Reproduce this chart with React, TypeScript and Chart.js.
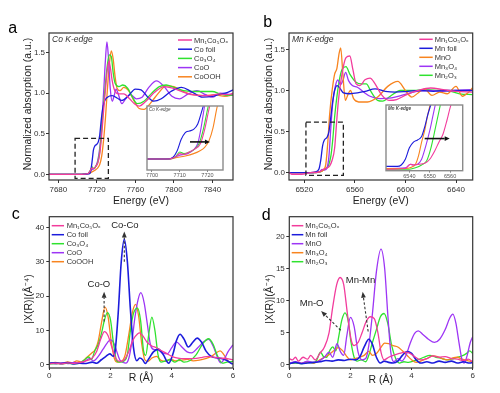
import React, { useEffect, useRef } from 'react';
import { Chart, registerables } from 'chart.js';

Chart.register(...registerables);

const FONT = "'Liberation Sans', Arial, Helvetica, sans-serif";
Chart.defaults.font.family = FONT;
Chart.defaults.color = '#333';

const PINK = '#f23c9c';
const BLUE = '#1c1cdc';
const GREEN = '#2fe22f';
const PURPLE = '#9d35f5';
const ORANGE = '#f8841f';

type P = [number, number][];

// ---------------- tick labels ----------------
const xTicksA = [7680, 7720, 7760, 7800, 7840];
const xTicksB = [6520, 6560, 6600, 6640];
const yTicksAB = [0, 0.5, 1.0, 1.5];
const xTicksCD = [0, 2, 4, 6];
const yTicksC = [0, 10, 20, 30, 40];
const yTicksD = [0, 5, 10, 15, 20];
const xTicksInsetA = [7700, 7710, 7720];
const xTicksInsetB = [6540, 6550, 6560];

// ---------------- labels ----------------
const labelsA = ['Mn₁Co₅Oₓ', 'Co foil', 'Co₃O₄', 'CoO', 'CoOOH'];
const labelsB = ['Mn₁Co₅Oₓ', 'Mn foil', 'MnO', 'Mn₃O₄', 'Mn₂O₃'];

// ---------------- panel a : Co K-edge XANES ----------------
const mnCoA: P = [[7670,0],[7704,0],[7711,0.01],[7713,0.04],[7715,0.08],[7717,0.07],[7719,0.1],[7721,0.14],[7723,0.25],[7725,0.48],[7727,0.78],[7729,1.05],[7731,1.3],[7732.5,1.39],[7734,1.32],[7736,1.15],[7739,1.02],[7743,0.99],[7748,0.99],[7754,0.93],[7759,0.87],[7764,0.84],[7771,0.9],[7780,1.01],[7790,1.08],[7799,1.06],[7808,1.02],[7818,0.98],[7828,0.97],[7838,0.97],[7847,0.99],[7855,0.98],[7862,1.0]];
const coFoilA: P = [[7670,0],[7704,0],[7712,0.005],[7713.5,0.03],[7715,0.15],[7716.5,0.3],[7718,0.35],[7720,0.37],[7721.5,0.4],[7723,0.48],[7724.5,0.66],[7726,0.8],[7728,0.9],[7731,0.95],[7736,0.97],[7741,0.94],[7746,0.91],[7753,0.97],[7760,1.05],[7766,1.04],[7773,0.95],[7779,0.9],[7787,0.93],[7797,1.02],[7808,1.07],[7818,1.02],[7830,0.95],[7840,0.96],[7849,0.99],[7856,1.01],[7862,1.04]];
const co3o4A: P = [[7670,0],[7704,0],[7711,0.01],[7713,0.04],[7715,0.09],[7717,0.07],[7719,0.1],[7721,0.15],[7723,0.28],[7725,0.55],[7727,0.85],[7729,1.12],[7731,1.35],[7733,1.47],[7735,1.45],[7737,1.25],[7739,1.12],[7743,1.08],[7747,1.1],[7752,1.06],[7757,0.95],[7762,0.87],[7769,0.9],[7777,1.0],[7785,1.08],[7792,1.1],[7800,1.07],[7810,1.03],[7820,1.02],[7830,1.02],[7840,1.02],[7848,0.99],[7855,0.97],[7862,0.98]];
const cooA: P = [[7670,0],[7704,0],[7711,0.01],[7713,0.04],[7715,0.06],[7717,0.07],[7719,0.1],[7721,0.17],[7723,0.32],[7724.5,0.5],[7726,0.8],[7727.5,1.1],[7729,1.42],[7730.5,1.63],[7732,1.45],[7734,1.05],[7736,0.9],[7738,0.97],[7740,1.05],[7742.5,0.98],[7746,0.87],[7750,0.93],[7755,0.98],[7761,0.93],[7767,0.95],[7774,1.07],[7782,1.15],[7790,1.08],[7798,0.96],[7806,0.93],[7815,0.99],[7824,1.03],[7833,0.98],[7840,0.95],[7848,1.0],[7855,0.99],[7862,0.97]];
const coOOHA: P = [[7670,0],[7704,0],[7712,0.01],[7715,0.03],[7718,0.05],[7721,0.08],[7723,0.12],[7725,0.22],[7727,0.42],[7729,0.7],[7731,1.05],[7733,1.35],[7735,1.52],[7737,1.42],[7739,1.2],[7741,1.06],[7744,1.03],[7748,1.07],[7753,1.03],[7758,0.92],[7764,0.81],[7769,0.8],[7776,0.88],[7784,1.0],[7792,1.09],[7800,1.08],[7810,1.02],[7820,0.98],[7832,0.97],[7843,0.98],[7853,0.96],[7862,0.98]];

// inset a (edge region)
const mnCoInA: P = [[7698,0],[7706,0],[7708.5,0.03],[7710,0.07],[7711.5,0.06],[7713.5,0.09],[7715.5,0.13],[7717.5,0.2],[7719,0.38],[7720.3,0.6],[7721.5,0.8],[7722.5,1.0]];
const coFoilInA: P = [[7698,0],[7706,0],[7707.5,0.02],[7709,0.1],[7710.5,0.25],[7712,0.34],[7713.5,0.36],[7715,0.38],[7716.5,0.45],[7718,0.62],[7719.5,0.8],[7721,0.95]];
const co3o4InA: P = [[7698,0],[7706,0],[7708.5,0.03],[7710,0.09],[7711.5,0.07],[7713.5,0.09],[7715.5,0.13],[7717,0.2],[7718.5,0.38],[7719.8,0.6],[7721,0.8],[7722,1.0]];
const cooInA: P = [[7698,0],[7705,0],[7708,0.02],[7710,0.05],[7711.5,0.06],[7713,0.07],[7715,0.12],[7716.5,0.2],[7717.5,0.36],[7718.5,0.58],[7719.5,0.8],[7720.5,1.0]];
const coOOHInA: P = [[7698,0],[7706,0],[7709,0.02],[7712,0.04],[7715,0.07],[7717,0.1],[7719,0.15],[7720.5,0.23],[7722,0.4],[7723.2,0.62],[7724.3,0.8],[7725.6,1.0]];

// ---------------- panel b : Mn K-edge XANES ----------------
const mnCoB: P = [[6508,0],[6510,-0.02],[6518,-0.02],[6525,0],[6532,0.01],[6535,0.04],[6537,0.05],[6540,0.08],[6542,0.15],[6544,0.3],[6545.5,0.6],[6547,0.88],[6549,1.12],[6551,1.3],[6553,1.4],[6556,1.42],[6558.5,1.25],[6561,1.08],[6564,1.06],[6568,1.13],[6572,1.15],[6576,1.08],[6581,0.95],[6587,0.88],[6593,0.89],[6601,0.95],[6610,1.0],[6620,1.03],[6630,1.01],[6640,0.99],[6653,0.98]];
const mnFoilB: P = [[6508,0],[6525,0],[6529,0.01],[6531.5,0.04],[6533,0.15],[6534.5,0.33],[6536,0.4],[6538,0.43],[6539.5,0.5],[6541,0.68],[6542.5,0.87],[6544,1.0],[6546,1.06],[6548,1.03],[6551,0.97],[6556,0.96],[6562,0.97],[6568,0.99],[6576,1.02],[6584,0.99],[6592,0.98],[6602,0.99],[6612,1.0],[6622,0.99],[6632,1.0],[6642,1.0],[6653,1.0]];
const mnOB: P = [[6508,0],[6525,0],[6532,0.01],[6535,0.03],[6537,0.1],[6538.5,0.35],[6540,0.7],[6542,1.0],[6544,1.2],[6545.8,1.27],[6547.5,1.45],[6548.8,1.52],[6550.5,1.2],[6552.5,0.88],[6554.5,0.95],[6556.5,1.0],[6559,0.9],[6563,0.86],[6570,0.86],[6578,0.92],[6586,1.05],[6594,1.11],[6600,1.0],[6605,0.92],[6610,0.97],[6615,1.02],[6621,0.94],[6627,0.98],[6633,0.96],[6640,1.05],[6645,0.93],[6650,0.98],[6653,1.03]];
const mn3o4B: P = [[6508,0],[6525,0],[6532,0.01],[6534,0.04],[6536,0.03],[6538,0.06],[6539.5,0.2],[6541,0.55],[6542.5,0.85],[6544.5,1.05],[6546.5,1.13],[6548.5,1.07],[6550.5,1.12],[6552.7,1.22],[6555,1.12],[6558,1.06],[6562,1.04],[6567,0.98],[6572,0.93],[6580,0.9],[6589,0.91],[6599,0.95],[6609,0.99],[6619,1.0],[6629,0.99],[6639,1.0],[6653,1.01]];
const mn2o3B: P = [[6508,0],[6525,0],[6533,0.01],[6535,0.03],[6537,0.05],[6539,0.08],[6541,0.2],[6542.5,0.4],[6544,0.68],[6546,0.95],[6548,1.15],[6550,1.26],[6553,1.29],[6556,1.2],[6561,1.1],[6565,1.08],[6569,1.08],[6573,0.98],[6578,0.88],[6582,0.87],[6588,0.93],[6596,1.0],[6606,1.0],[6616,1.01],[6626,1.0],[6636,0.99],[6643,0.96],[6653,0.95]];

// inset b
const mnCoInB: P = [[6528,-0.04],[6538,-0.03],[6540.5,0.03],[6542,0.02],[6545,0.03],[6548,0.05],[6550,0.1],[6552.5,0.22],[6554.5,0.34],[6556.5,0.45],[6558.5,0.65],[6560,0.82],[6561.5,0.95]];
const mnFoilInB: P = [[6528,0],[6534,0],[6536,0.02],[6538,0.1],[6540,0.26],[6542,0.34],[6544,0.37],[6546,0.42],[6547.5,0.55],[6549,0.72],[6550.5,0.86],[6552,1.0]];
const mnOInB: P = [[6528,-0.03],[6538,-0.03],[6541,-0.01],[6543,0.03],[6544.5,0.15],[6546,0.34],[6547.5,0.5],[6549,0.72],[6550.5,0.9]];
const mn3o4InB: P = [[6528,-0.03],[6538,-0.02],[6540.5,0.03],[6542,0.02],[6544,0.03],[6546,0.1],[6548,0.28],[6550,0.5],[6551.5,0.7],[6553,0.9]];
const mn2o3InB: P = [[6528,-0.04],[6540,-0.04],[6543,-0.02],[6546,0.02],[6548.5,0.08],[6550.5,0.25],[6552.5,0.5],[6554,0.7],[6555.5,0.9]];

// ---------------- panel c : Co FT-EXAFS ----------------
const mnCoC: P = [[0,0.3],[0.2,0.5],[0.4,0.3],[0.6,0.6],[0.8,0.4],[1.0,0.7],[1.2,1.2],[1.4,2],[1.55,4],[1.68,7.5],[1.8,9.7],[1.92,8.5],[2.05,5],[2.18,1.8],[2.3,1],[2.45,1.5],[2.6,4],[2.75,7.5],[2.88,9],[2.95,9.3],[3.05,8.5],[3.2,6.5],[3.35,5.5],[3.5,5],[3.65,4.2],[3.8,3.5],[4.0,2.5],[4.2,2],[4.4,1.8],[4.6,1.8],[4.8,1.9],[5.0,2.2],[5.2,2.5],[5.4,2.2],[5.6,2],[5.8,1.8],[6,1.5]];
const coFoilC: P = [[0,0.5],[0.2,0.6],[0.4,0.4],[0.6,0.7],[0.8,0.3],[1.0,0.5],[1.2,0.4],[1.4,0.8],[1.55,0.5],[1.7,1.5],[1.85,2.5],[1.98,3.2],[2.08,2.5],[2.15,4],[2.25,15],[2.35,30],[2.45,36.5],[2.55,30],[2.65,16],[2.75,5],[2.86,1.2],[2.95,2],[3.05,1.5],[3.13,0.4],[3.25,1.8],[3.4,3.8],[3.56,4.6],[3.72,3],[3.9,0.5],[4.05,3.5],[4.15,7],[4.27,8.9],[4.4,7.5],[4.54,5.2],[4.68,6.5],[4.83,7.8],[4.98,6.5],[5.12,4],[5.3,2.4],[5.5,2],[5.65,1.8],[5.8,1.3],[5.95,0.4],[6,0.3]];
const co3o4C: P = [[0,0.3],[0.2,0.4],[0.4,0.3],[0.6,0.5],[0.8,0.3],[1.0,0.6],[1.15,1.5],[1.28,2.3],[1.38,1.6],[1.48,4],[1.6,6],[1.7,9],[1.8,13],[1.9,15.2],[2.0,13],[2.1,6],[2.2,1.2],[2.3,0.8],[2.45,1.2],[2.55,3],[2.65,10],[2.75,15],[2.88,16.5],[2.98,13],[3.08,4],[3.15,2.8],[3.25,9],[3.35,13.9],[3.45,10],[3.55,3],[3.65,0.8],[3.8,1.2],[3.95,1.5],[4.1,0.8],[4.25,1.5],[4.4,0.8],[4.6,1.3],[4.8,3],[5.0,6],[5.2,7.6],[5.35,6],[5.5,2.5],[5.65,0.5],[5.8,0.8],[6,1]];
const cooC: P = [[0,0.5],[0.2,0.3],[0.4,0.6],[0.6,0.4],[0.8,0.7],[1.0,0.5],[1.15,1.0],[1.3,1.8],[1.45,1.2],[1.6,2.5],[1.75,4.5],[1.9,6.5],[2.0,7.3],[2.1,6.5],[2.2,4],[2.3,1.5],[2.4,0.8],[2.5,0.5],[2.6,2],[2.7,7],[2.8,14],[2.9,19],[2.99,21],[3.1,18],[3.2,12],[3.3,6],[3.4,4.5],[3.55,4.3],[3.7,3.5],[3.85,3.2],[4.0,5],[4.15,6.7],[4.3,5.5],[4.5,3.8],[4.65,3.5],[4.85,5],[5.05,6.8],[5.2,7.4],[5.35,5.5],[5.5,2],[5.6,0.6],[5.7,1.5],[5.85,4],[6,5.8]];
const coOOHC: P = [[0,0.5],[0.2,0.7],[0.4,0.5],[0.6,0.9],[0.75,0.6],[0.9,1.2],[1.05,0.8],[1.2,2],[1.38,3.4],[1.5,4.5],[1.6,7],[1.7,12],[1.82,16.8],[1.92,14],[2.02,7],[2.12,2],[2.22,0.8],[2.35,1],[2.48,3],[2.6,9],[2.72,15.5],[2.82,17.6],[2.92,14],[3.02,6],[3.12,1.5],[3.22,1],[3.35,2],[3.5,2.5],[3.65,1.3],[3.8,1],[3.95,1.7],[4.1,1.2],[4.3,1.3],[4.5,1.6],[4.7,1.2],[4.9,1.4],[5.1,1.8],[5.3,2.5],[5.45,3.5],[5.58,4.1],[5.7,3],[5.85,1],[6,0.3]];

// ---------------- panel d : Mn FT-EXAFS ----------------
const mnCoD: P = [[0,1.0],[0.1,0.8],[0.2,1.2],[0.3,0.6],[0.45,1.2],[0.6,0.9],[0.7,1.5],[0.85,0.8],[1.0,1.8],[1.15,2.8],[1.3,5],[1.42,9],[1.55,12.5],[1.66,13.6],[1.78,12.5],[1.9,8],[2.02,4],[2.12,3],[2.25,3.5],[2.38,5],[2.52,6.8],[2.65,7.5],[2.78,7.2],[2.9,5],[3.0,2],[3.1,0.8],[3.25,1.2],[3.4,1.5],[3.6,1.8],[3.8,2],[3.95,1.8],[4.1,1.3],[4.3,0.8],[4.5,1],[4.7,1.4],[4.9,1.2],[5.1,1.3],[5.3,1],[5.5,0.9],[5.7,0.7],[5.85,0.9],[6,0.5]];
const mnFoilD: P = [[0,0.2],[0.2,0.4],[0.4,0.2],[0.6,0.3],[0.8,0.4],[1.0,0.5],[1.2,0.7],[1.4,0.6],[1.6,0.8],[1.8,0.7],[2.0,0.9],[2.15,0.8],[2.3,1.2],[2.45,2.8],[2.6,4.0],[2.72,3.2],[2.85,1.2],[2.98,0.3],[3.1,0.6],[3.25,0.4],[3.4,0.3],[3.55,0.6],[3.7,1.5],[3.85,2.1],[4.0,1.8],[4.15,0.8],[4.3,0.3],[4.5,0.5],[4.7,0.3],[4.9,0.6],[5.1,0.4],[5.3,0.6],[5.5,0.3],[5.7,0.5],[5.9,0.3],[6,0.4]];
const mnOD: P = [[0,0.3],[0.2,0.5],[0.4,0.3],[0.6,0.6],[0.8,0.4],[1.0,0.7],[1.15,1.2],[1.3,2],[1.42,1.2],[1.56,3.3],[1.68,2],[1.78,1.5],[1.88,4.5],[2.0,7.4],[2.12,6],[2.25,2],[2.38,0.8],[2.5,1],[2.6,3],[2.72,8],[2.85,14.5],[3.0,18],[3.12,15],[3.22,8],[3.32,2],[3.42,0.5],[3.55,1],[3.68,0.6],[3.82,1.5],[3.95,3.3],[4.1,4.9],[4.22,5.3],[4.38,4.7],[4.55,4],[4.75,3.5],[4.92,4],[5.1,5.5],[5.25,7.3],[5.35,7.9],[5.45,6.5],[5.55,3.5],[5.65,0.8],[5.72,0.3],[5.82,1.5],[5.92,3.5],[6,4.4]];
const mn3o4D: P = [[0,0.2],[0.2,0.4],[0.4,0.3],[0.6,0.5],[0.8,0.3],[1.0,0.8],[1.15,1.2],[1.3,1.6],[1.45,2.2],[1.6,2.7],[1.75,2.2],[1.9,1.2],[2.0,0.8],[2.15,1],[2.3,1.2],[2.45,1.5],[2.6,2.1],[2.72,1.5],[2.85,1.8],[2.98,2.6],[3.12,3.4],[3.25,3.3],[3.4,3],[3.55,2.8],[3.7,2.2],[3.85,1.5],[4.0,0.8],[4.15,0.4],[4.3,0.6],[4.5,1],[4.7,1.4],[4.85,1.3],[5.0,1],[5.2,0.8],[5.35,1.1],[5.5,1.2],[5.65,0.9],[5.8,0.7],[6,0.5]];
const mn2o3D: P = [[0,0.2],[0.2,0.3],[0.4,0.2],[0.6,0.4],[0.8,0.3],[0.9,0.8],[1.02,2],[1.12,1.3],[1.22,1.2],[1.32,2.2],[1.42,2.8],[1.52,2.2],[1.62,4.5],[1.72,7],[1.82,8.1],[1.92,7],[2.02,3.5],[2.12,1.2],[2.22,0.6],[2.35,0.8],[2.5,0.5],[2.6,1.5],[2.72,3.5],[2.85,5.5],[2.98,7.5],[3.1,8],[3.22,6.5],[3.35,3],[3.48,1],[3.6,0.3],[3.75,0.5],[3.9,0.4],[4.05,0.6],[4.2,0.8],[4.4,1.2],[4.6,1.5],[4.8,1.2],[5.0,1],[5.15,0.8],[5.3,0.9],[5.5,1.2],[5.65,1.4],[5.8,1.8],[5.9,2.2],[6,1.8]];

// ---------------- helpers ----------------
const pts = (a: P) => a.map(([x, y]) => ({ x, y }));

function line(label: string, data: P, color: string, width = 1.3) {
  return {
    label,
    data: pts(data),
    borderColor: color,
    backgroundColor: color,
    borderWidth: width,
    pointRadius: 0,
    pointHoverRadius: 0,
    fill: false,
    cubicInterpolationMode: 'monotone',
  };
}

type Txt = {
  text: string; x: number; y: number; mode: 'abs' | 'area' | 'data'; size: number;
  style?: string; weight?: string; align?: CanvasTextAlign; baseline?: CanvasTextBaseline; rot?: number; color?: string;
};
type Arrow = { x0: number; y0: number; x1: number; y1: number; dash?: number[]; width?: number; head?: number; hw?: number; color?: string };
type Box = { x0: number; x1: number; y0: number; y1: number };
type Legend = { x: number; y: number; step: number; len: number; gap: number; size: number };
type Notes = { frame: { color: string; width: number }; bg?: boolean; boxes?: Box[]; arrows?: Arrow[]; texts?: Txt[]; legend?: Legend };

function notesPlugin(n: Notes) {
  return {
    id: 'notes',
    beforeDraw(chart: any) {
      if (!n.bg) return;
      const { ctx, chartArea: a } = chart;
      ctx.save();
      ctx.fillStyle = '#fff';
      ctx.fillRect(a.left, a.top, a.right - a.left, a.bottom - a.top);
      ctx.restore();
    },
    afterDraw(chart: any) {
      const { ctx, chartArea: a, scales } = chart;
      const sx = scales.x;
      const sy = scales.y;
      ctx.save();
      for (const b of n.boxes || []) {
        const l = sx.getPixelForValue(b.x0);
        const r = sx.getPixelForValue(b.x1);
        const t = sy.getPixelForValue(b.y1);
        const bt = sy.getPixelForValue(b.y0);
        ctx.setLineDash([5, 3]);
        ctx.lineWidth = 1.3;
        ctx.strokeStyle = '#222';
        ctx.strokeRect(l, t, r - l, bt - t);
      }
      ctx.setLineDash([]);
      for (const ar of n.arrows || []) {
        const X0 = sx.getPixelForValue(ar.x0);
        const Y0 = sy.getPixelForValue(ar.y0);
        const X1 = sx.getPixelForValue(ar.x1);
        const Y1 = sy.getPixelForValue(ar.y1);
        const ang = Math.atan2(Y1 - Y0, X1 - X0);
        const h = ar.head ?? 6;
        const hw = ar.hw ?? 2.6;
        const bx = X1 - h * Math.cos(ang);
        const by = Y1 - h * Math.sin(ang);
        const col = ar.color || '#333';
        ctx.strokeStyle = col;
        ctx.fillStyle = col;
        ctx.lineWidth = ar.width ?? 1.1;
        ctx.setLineDash(ar.dash || []);
        ctx.beginPath();
        ctx.moveTo(X0, Y0);
        ctx.lineTo(bx, by);
        ctx.stroke();
        ctx.setLineDash([]);
        ctx.beginPath();
        ctx.moveTo(X1, Y1);
        ctx.lineTo(bx + hw * Math.sin(ang), by - hw * Math.cos(ang));
        ctx.lineTo(bx - hw * Math.sin(ang), by + hw * Math.cos(ang));
        ctx.closePath();
        ctx.fill();
      }
      if (n.legend) {
        const L = n.legend;
        ctx.font = `normal ${L.size}px ${FONT}`;
        ctx.textBaseline = 'middle';
        ctx.textAlign = 'left';
        chart.data.datasets.forEach((ds: any, i: number) => {
          const y = a.top + L.y + i * L.step;
          const x = a.left + L.x;
          ctx.strokeStyle = ds.borderColor;
          ctx.lineWidth = 1.5;
          ctx.beginPath();
          ctx.moveTo(x, y);
          ctx.lineTo(x + L.len, y);
          ctx.stroke();
          ctx.fillStyle = '#333';
          ctx.fillText(ds.label, x + L.len + L.gap, y + 0.5);
        });
      }
      for (const t of n.texts || []) {
        let X = t.x;
        let Y = t.y;
        if (t.mode === 'area') { X = a.left + t.x; Y = a.top + t.y; }
        else if (t.mode === 'data') { X = sx.getPixelForValue(t.x); Y = sy.getPixelForValue(t.y); }
        ctx.save();
        ctx.font = `${t.style || 'normal'} ${t.weight || 'normal'} ${t.size}px ${FONT}`;
        ctx.fillStyle = t.color || '#222';
        ctx.textAlign = t.align || 'center';
        ctx.textBaseline = t.baseline || 'middle';
        ctx.translate(X, Y);
        if (t.rot) ctx.rotate((t.rot * Math.PI) / 180);
        ctx.fillText(t.text, 0, 0);
        ctx.restore();
      }
      ctx.strokeStyle = n.frame.color;
      ctx.lineWidth = n.frame.width;
      ctx.strokeRect(a.left, a.top, a.right - a.left, a.bottom - a.top);
      ctx.restore();
    },
  };
}

type Axis = { min: number; max: number; ticks: number[]; dec?: number; size: number; tickLen: number; pad: number; color?: string; tickColor?: string; display?: boolean; fit: number };

function axis(o: Axis, horizontal: boolean) {
  return {
    type: 'linear',
    display: o.display !== false,
    min: o.min,
    max: o.max,
    afterBuildTicks: (s: any) => { s.ticks = o.ticks.map((v) => ({ value: v })); },
    afterFit: (s: any) => { if (horizontal) s.height = o.fit; else s.width = o.fit; },
    ticks: {
      font: { size: o.size },
      color: o.color || '#333',
      padding: o.pad,
      maxRotation: 0,
      autoSkip: false,
      callback: (v: any) => (o.dec ? Number(v).toFixed(o.dec) : String(v)),
    },
    grid: { display: true, drawOnChartArea: false, drawTicks: true, tickLength: o.tickLen, tickColor: o.tickColor || '#333', tickWidth: 1 },
    border: { display: false },
    title: { display: false },
  };
}

function config(datasets: any[], x: Axis, y: Axis, padding: any, notes: Notes) {
  return {
    type: 'line',
    data: { datasets },
    options: {
      responsive: false,
      animation: false,
      events: [],
      layout: { padding },
      plugins: { legend: { display: false }, tooltip: { enabled: false } },
      scales: { x: axis(x, true), y: axis(y, false) },
    },
    plugins: [notesPlugin(notes)],
  } as any;
}

const FRAME = { color: '#333', width: 1.2 };
const IFRAME = { color: '#8a8a8a', width: 1.4 };

// ---------------- configs ----------------
const cfgA = () =>
  config(
    [line(labelsA[0], mnCoA, PINK), line(labelsA[1], coFoilA, BLUE), line(labelsA[2], co3o4A, GREEN), line(labelsA[3], cooA, PURPLE), line(labelsA[4], coOOHA, ORANGE)],
    { min: 7670.3, max: 7861.5, ticks: xTicksA, size: 8, tickLen: 3, pad: 2, fit: 27 },
    { min: -0.07, max: 1.74, ticks: yTicksAB, dec: 1, size: 8, tickLen: 3, pad: 1, fit: 49 },
    { left: 0, top: 33, right: 17, bottom: 0 },
    {
      frame: FRAME,
      boxes: [{ x0: 7697.4, x1: 7732, y0: -0.049, y1: 0.443 }],
      legend: { x: 129, y: 7, step: 9.2, len: 14, gap: 2, size: 7.5 },
      texts: [
        { text: 'Co K-edge', x: 3, y: 6.5, mode: 'area', size: 8.5, style: 'italic', align: 'left', color: '#333' },
        { text: 'a', x: 8.3, y: 33, mode: 'abs', size: 16, align: 'left', baseline: 'alphabetic', color: '#000' },
        { text: 'Normalized absorption (a.u.)', x: 28, y: 104, mode: 'abs', size: 10.5, rot: -90 },
        { text: 'Energy (eV)', x: 141, y: 201, mode: 'abs', size: 10.5 },
      ],
    }
  );

const cfgInsetA = () =>
  config(
    [line(labelsA[0], mnCoInA, PINK, 1.1), line(labelsA[1], coFoilInA, BLUE, 1.1), line(labelsA[2], co3o4InA, GREEN, 1.1), line(labelsA[3], cooInA, PURPLE, 1.1), line(labelsA[4], coOOHInA, ORANGE, 1.1)],
    { min: 7698.2, max: 7725.6, ticks: xTicksInsetA, size: 5.5, tickLen: 2, pad: 0, color: '#555', tickColor: '#888', fit: 10 },
    { min: -0.14, max: 0.68, ticks: [], size: 5, tickLen: 0, pad: 0, display: false, fit: 0 },
    { left: 2, top: 2, right: 4, bottom: 0 },
    {
      frame: IFRAME,
      bg: true,
      arrows: [{ x0: 7713.7, y0: 0.22, x1: 7720.9, y1: 0.22, width: 1.6, head: 5, hw: 2.4, color: '#111' }],
      texts: [{ text: 'Co K-edge', x: 2, y: 4, mode: 'area', size: 4.5, style: 'italic', align: 'left', color: '#444' }],
    }
  );

const cfgB = () =>
  config(
    [line(labelsB[0], mnCoB, PINK), line(labelsB[1], mnFoilB, BLUE), line(labelsB[2], mnOB, ORANGE), line(labelsB[3], mn3o4B, PURPLE), line(labelsB[4], mn2o3B, GREEN)],
    { min: 6507.9, max: 6653.2, ticks: xTicksB, size: 8, tickLen: 3, pad: 2, fit: 27 },
    { min: -0.09, max: 1.7, ticks: yTicksAB, dec: 1, size: 8, tickLen: 3, pad: 1, fit: 39 },
    { left: 0, top: 33, right: 27.3, bottom: 0 },
    {
      frame: FRAME,
      boxes: [{ x0: 6521.3, x1: 6550.9, y0: -0.033, y1: 0.615 }],
      legend: { x: 130.3, y: 6.3, step: 9, len: 13.4, gap: 2, size: 7.5 },
      texts: [
        { text: 'Mn K-edge', x: 3, y: 6.5, mode: 'area', size: 8.5, style: 'italic', align: 'left', color: '#333' },
        { text: 'b', x: 13.3, y: 26.7, mode: 'abs', size: 16, align: 'left', baseline: 'alphabetic', color: '#000' },
        { text: 'Normalized absorption (a.u.)', x: 19, y: 104, mode: 'abs', size: 10.5, rot: -90 },
        { text: 'Energy (eV)', x: 130.8, y: 201, mode: 'abs', size: 10.5 },
      ],
    }
  );

const cfgInsetB = () =>
  config(
    [line(labelsB[0], mnCoInB, PINK, 1.1), line(labelsB[1], mnFoilInB, BLUE, 1.1), line(labelsB[2], mnOInB, ORANGE, 1.1), line(labelsB[3], mn3o4InB, PURPLE, 1.1), line(labelsB[4], mn2o3InB, GREEN, 1.1)],
    { min: 6528.5, max: 6566.2, ticks: xTicksInsetB, size: 5.5, tickLen: 2, pad: 0, color: '#555', tickColor: '#888', fit: 10.3 },
    { min: -0.06, max: 0.86, ticks: [], size: 5, tickLen: 0, pad: 0, display: false, fit: 0 },
    { left: 2, top: 2, right: 4.3, bottom: 0 },
    {
      frame: IFRAME,
      bg: true,
      arrows: [{ x0: 6547.5, y0: 0.39, x1: 6559.8, y1: 0.39, width: 1.6, head: 5, hw: 2.4, color: '#111' }],
      texts: [{ text: 'Mn K-edge', x: 2, y: 4, mode: 'area', size: 4.5, style: 'italic', weight: 'bold', align: 'left', color: '#444' }],
    }
  );

const cfgC = () =>
  config(
    [line(labelsA[0], mnCoC, PINK), line(labelsA[1], coFoilC, BLUE, 1.6), line(labelsA[2], co3o4C, GREEN), line(labelsA[3], cooC, PURPLE), line(labelsA[4], coOOHC, ORANGE)],
    { min: 0, max: 6, ticks: xTicksCD, size: 8, tickLen: 2, pad: 1, fit: 25 },
    { min: -0.9, max: 43.1, ticks: yTicksC, size: 8, tickLen: 3, pad: 2, fit: 49.3 },
    { left: 0, top: 9.7, right: 17, bottom: 0 },
    {
      frame: FRAME,
      legend: { x: 2.4, y: 9, step: 9, len: 12.3, gap: 2.7, size: 7.5 },
      arrows: [
        { x0: 2.45, y0: 30, x1: 2.45, y1: 38.8, dash: [2.5, 2], width: 1.1, head: 6, hw: 2.4 },
        { x0: 1.79, y0: 12.6, x1: 1.79, y1: 21.3, dash: [2.5, 2], width: 1.1, head: 6, hw: 2.4 },
      ],
      texts: [
        { text: 'Co-Co', x: 2.47, y: 40.6, mode: 'data', size: 9.5 },
        { text: 'Co-O', x: 1.62, y: 23.3, mode: 'data', size: 9.5 },
        { text: 'c', x: 11.7, y: 12, mode: 'abs', size: 16, align: 'left', baseline: 'alphabetic', color: '#000' },
        { text: '|X(R)|(Å⁻⁴)', x: 29, y: 92, mode: 'abs', size: 10.5, rot: -90 },
        { text: 'R (Å)', x: 141, y: 171.3, mode: 'abs', size: 10.5 },
      ],
    }
  );

const cfgD = () =>
  config(
    [line(labelsB[0], mnCoD, PINK), line(labelsB[1], mnFoilD, BLUE, 1.6), line(labelsB[2], mnOD, PURPLE), line(labelsB[3], mn3o4D, ORANGE), line(labelsB[4], mn2o3D, GREEN)],
    { min: 0, max: 6, ticks: xTicksCD, size: 8, tickLen: 2, pad: 1, fit: 25 },
    { min: -0.47, max: 23.05, ticks: yTicksD, size: 8, tickLen: 3, pad: 1.5, fit: 39.3 },
    { left: 0, top: 9.7, right: 27.3, bottom: 0 },
    {
      frame: FRAME,
      legend: { x: 2.4, y: 9, step: 9, len: 11.6, gap: 2, size: 7.5 },
      arrows: [
        { x0: 2.58, y0: 5.2, x1: 2.4, y1: 11.4, dash: [2.5, 2], width: 1.1, head: 6, hw: 2.4 },
        { x0: 1.68, y0: 5.4, x1: 1.04, y1: 8.4, dash: [2.5, 2], width: 1.1, head: 6, hw: 2.4 },
      ],
      texts: [
        { text: 'Mn-Mn', x: 2.33, y: 13.1, mode: 'data', size: 9.5 },
        { text: 'Mn-O', x: 0.73, y: 9.6, mode: 'data', size: 9.5 },
        { text: 'd', x: 11.7, y: 13, mode: 'abs', size: 16, align: 'left', baseline: 'alphabetic', color: '#000' },
        { text: '|X(R)|(Å⁻⁴)', x: 20, y: 92, mode: 'abs', size: 10.5, rot: -90 },
        { text: 'R (Å)', x: 130.8, y: 173, mode: 'abs', size: 10.5 },
      ],
    }
  );

function Panel(props: { left: number; top: number; width: number; height: number; make: () => any }) {
  const ref = useRef<HTMLCanvasElement>(null);
  useEffect(() => {
    const chart = new Chart(ref.current as HTMLCanvasElement, props.make());
    return () => chart.destroy();
  }, []);
  return (
    <canvas
      ref={ref}
      width={props.width}
      height={props.height}
      style={{ position: 'absolute', left: props.left, top: props.top, width: props.width, height: props.height }}
    />
  );
}

export default function App() {
  return (
    <div style={{ position: 'fixed', left: 0, top: 0, width: 500, height: 393, background: '#fff', overflow: 'hidden' }}>
      <Panel left={0} top={0} width={250} height={207} make={cfgA} />
      <Panel left={145} top={104} width={82} height={76} make={cfgInsetA} />
      <Panel left={250} top={0} width={250} height={207} make={cfgB} />
      <Panel left={384} top={103} width={83} height={78} make={cfgInsetB} />
      <Panel left={0} top={207} width={250} height={186} make={cfgC} />
      <Panel left={250} top={207} width={250} height={186} make={cfgD} />
    </div>
  );
}
